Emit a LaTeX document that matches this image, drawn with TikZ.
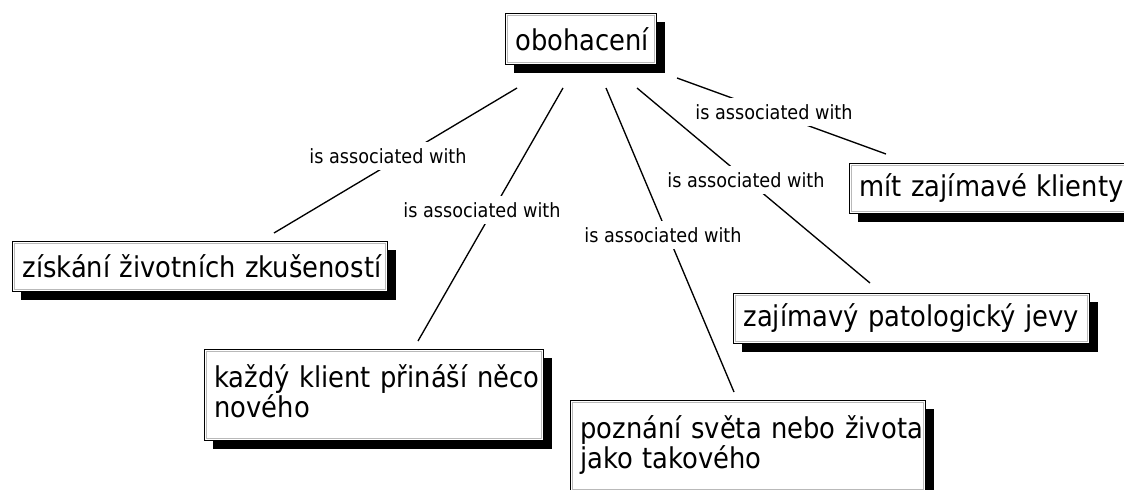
\documentclass[tikz,border=0pt]{standalone}
\usepackage{fontspec}
\setmainfont{DejaVu Sans Condensed}
\usetikzlibrary{shadows,calc}
\newcommand\conceptfont{\fontsize{21.5}{22.5}\selectfont}
\newcommand\linkfont{\fontsize{14.7}{17}\selectfont}
\tikzset{
  concept/.style={draw=black, line width=0.75pt, fill=white, anchor=north west,
    align=left, inner xsep=7.5pt, inner ysep=0pt, font=\conceptfont,
    drop shadow={shadow xshift=6.5pt, shadow yshift=-6pt, fill=black, opacity=1},
    path picture={\draw[gray!55, line width=0.6pt]
      ([shift={(1.6pt,-1.6pt)}]path picture bounding box.north west) rectangle
      ([shift={(-1.6pt,1.6pt)}]path picture bounding box.south east);}},
  twolines/.style={minimum height=68.25pt, text height=17pt, text depth=28pt},
  oneline/.style={minimum height=37.5pt},
  linkphrase/.style={fill=white, inner xsep=2pt, inner ysep=4.5pt, font=\linkfont},
  link/.style={draw=black, line width=1pt},
}
\begin{document}
\begin{tikzpicture}[x=0.75pt, y=-0.75pt]
\useasboundingbox (0,0) rectangle (1124,489);
\clip (0,0) rectangle (1124,489);
\fill[white] (0,0) rectangle (1124,489);

% concepts
\node[concept, oneline, text width=98.25pt, minimum height=38.25pt] (enrich) at (505,13) {\mbox{obohacení}};
\node[concept, oneline, text width=266.25pt] (gain) at (12,241) {\mbox{získání životních zkušeností}};
\node[concept, twolines, text width=239.25pt] (client) at (204,349) {\mbox{každý klient přináší něco}\\\mbox{nového}};
\node[concept, twolines, text width=251.25pt] (world) at (570,400) {\mbox{poznání světa nebo života}\\\mbox{jako takového}};
\node[concept, oneline, text width=252pt] (patho) at (733,293) {\mbox{zajímavý patologický jevy}};
\node[concept, oneline, text width=199.5pt] (clients) at (849,163) {\mbox{mít zajímavé klienty}};

% connector end points next to the concepts
\coordinate (s1) at ($(enrich.south west)+(12,23)$);
\coordinate (s2) at ($(enrich.south west)+(58,23)$);
\coordinate (s3) at ($(enrich.south west)+(101,23)$);
\coordinate (s4) at ($(enrich.south west)+(132,23)$);
\coordinate (s5) at ($(enrich.south west)+(172,13)$);
\coordinate (e1) at ($(gain.north west)+(262,-8)$);
\coordinate (e2) at ($(client.north west)+(214,-8)$);
\coordinate (e3) at ($(world.north west)+(164,-8)$);
\coordinate (e4) at ($(patho.north west)+(137,-10)$);
\coordinate (e5) at ($(clients.north west)+(37,-9)$);

% connectors
\draw[link] (s1) -- (e1);
\draw[link] (s2) -- (e2);
\draw[link] (s3) -- (e3);
\draw[link] (s4) -- (e4);
\draw[link] (s5) -- (e5);

% linking phrases
\node[linkphrase] (l1) at (388,156) {is associated with};
\node[linkphrase] (l2) at (482,210) {is associated with};
\node[linkphrase] (l3) at (663,235) {is associated with};
\node[linkphrase] (l4) at (746,180) {is associated with};
\node[linkphrase] (l5) at (774,112) {is associated with};
\end{tikzpicture}
\end{document}
